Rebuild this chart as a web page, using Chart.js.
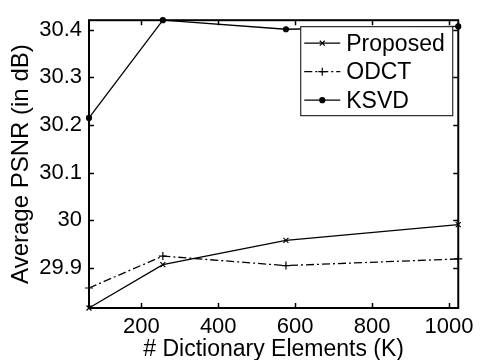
<!DOCTYPE html>
<html>
<head>
<meta charset="utf-8">
<script src="https://cdn.jsdelivr.net/npm/chart.js@4/dist/chart.umd.min.js"></script>
<style>
html,body{margin:0;padding:0;background:#fff;}
#wrap{width:480px;height:360px;}
</style>
</head>
<body>
<div id="wrap"><canvas id="c" width="480" height="360"></canvas></div>
<script>
const dictSizes = [64, 256, 576, 1024];
const proposed = [29.816, 29.907, 29.958, 29.991];
const odct = [29.858, 29.925, 29.905, 29.919];
const ksvd = [30.215, 30.42, 30.401, 30.407];
const xTicks = [200, 400, 600, 800, 1000];
const yTicks = [29.9, 30.0, 30.1, 30.2, 30.3, 30.4];
const yTickLabels = ['29.9', '30', '30.1', '30.2', '30.3', '30.4'];
const seriesNames = ['Proposed', 'ODCT', 'KSVD'];

const FONT = 'Liberation Sans, Arial, Helvetica, sans-serif';

function pts(arr){ return dictSizes.map((x,i)=>({x:x,y:arr[i]})); }

const styles = [
  {dash:[], point:'crossRot', r:3.5},
  {dash:[8,3,2,3], point:'cross', r:4},
  {dash:[], point:'circle', r:2.5}
];
const seriesData = [proposed, odct, ksvd];

const frame = {
  id:'frame',
  afterDatasetsDraw(chart){
    const ctx = chart.ctx, a = chart.chartArea;
    const xs = chart.scales.x, ys = chart.scales.y;
    ctx.save();
    ctx.strokeStyle = '#000';
    ctx.lineWidth = 2;
    ctx.strokeRect(a.left, a.top, a.right - a.left, a.bottom - a.top);
    ctx.lineWidth = 1.5;
    const L = 5;
    ctx.beginPath();
    xTicks.forEach(v=>{
      const p = Math.round(xs.getPixelForValue(v)) + 0.5;
      ctx.moveTo(p, a.bottom); ctx.lineTo(p, a.bottom - L);
      ctx.moveTo(p, a.top); ctx.lineTo(p, a.top + L);
    });
    yTicks.forEach(v=>{
      const p = Math.round(ys.getPixelForValue(v)) + 0.5;
      ctx.moveTo(a.left, p); ctx.lineTo(a.left + L, p);
      ctx.moveTo(a.right, p); ctx.lineTo(a.right - L, p);
    });
    ctx.stroke();
    ctx.restore();
  },
  afterDraw(chart){
    const ctx = chart.ctx, a = chart.chartArea;
    const w = 152, h = 89;
    const x0 = a.right - 6 - w, y0 = a.top + 6;
    ctx.save();
    ctx.fillStyle = '#fff';
    ctx.fillRect(x0, y0, w, h);
    ctx.strokeStyle = '#000';
    ctx.lineWidth = 1;
    ctx.strokeRect(x0 + 0.5, y0 + 0.5, w, h);
    ctx.font = '23px ' + FONT;
    ctx.textBaseline = 'middle';
    ctx.fillStyle = '#000';
    seriesNames.forEach((name, i)=>{
      const yy = y0 + 17 + i * 28.5;
      const s = styles[i];
      ctx.setLineDash(s.dash);
      ctx.lineWidth = 1.2;
      ctx.beginPath();
      ctx.moveTo(x0 + 4, yy); ctx.lineTo(x0 + 40, yy);
      ctx.stroke();
      ctx.setLineDash([]);
      Chart.helpers.drawPoint(ctx, {pointStyle: s.point, radius: s.r, borderWidth: 1.2, rotation: 0}, x0 + 22, yy);
      ctx.fillText(name, x0 + 46, yy + 1);
    });
    ctx.restore();
  }
};

new Chart(document.getElementById('c'), {
  type: 'scatter',
  data: {
    datasets: seriesData.map((arr, i)=>({
      label: seriesNames[i],
      data: pts(arr),
      showLine: true,
      borderColor: '#000',
      backgroundColor: '#000',
      borderWidth: 1.3,
      borderDash: styles[i].dash,
      pointStyle: styles[i].point,
      pointRadius: styles[i].r,
      pointBorderWidth: 1.2,
      pointBorderColor: '#000',
      pointBackgroundColor: '#000',
      clip: false,
      tension: 0
    }))
  },
  options: {
    responsive: false,
    animation: false,
    layout: {padding: {left: 0, right: 20, top: 14, bottom: 0}},
    plugins: {legend: {display: false}, tooltip: {enabled: false}},
    scales: {
      x: {
        type: 'linear', min: 64, max: 1024,
        grid: {display: false, drawTicks: false},
        border: {display: false},
        afterBuildTicks(s){ s.ticks = xTicks.map(v=>({value:v})); },
        afterFit(s){ s.height = 52; },
        ticks: {color: '#000', font: {family: FONT, size: 22}, padding: 6, maxRotation: 0,
                callback: v => String(v)},
        title: {display: true, text: '# Dictionary Elements (K)', color: '#000',
                font: {family: FONT, size: 23}, padding: {top: 0, bottom: -3}}
      },
      y: {
        type: 'linear', min: 29.816, max: 30.42,
        grid: {display: false, drawTicks: false},
        border: {display: false},
        afterBuildTicks(s){ s.ticks = yTicks.map(v=>({value:v})); },
        afterFit(s){ s.width = 89; },
        ticks: {color: '#000', font: {family: FONT, size: 22}, padding: 7,
                callback: (v) => { const i = yTicks.findIndex(t => Math.abs(t - v) < 1e-6); return i >= 0 ? yTickLabels[i] : ''; }},
        title: {display: true, text: 'Average PSNR (in dB)', color: '#000',
                font: {family: FONT, size: 24}, padding: {top: 7, bottom: 0}}
      }
    }
  },
  plugins: [frame]
});
</script>
</body>
</html>
